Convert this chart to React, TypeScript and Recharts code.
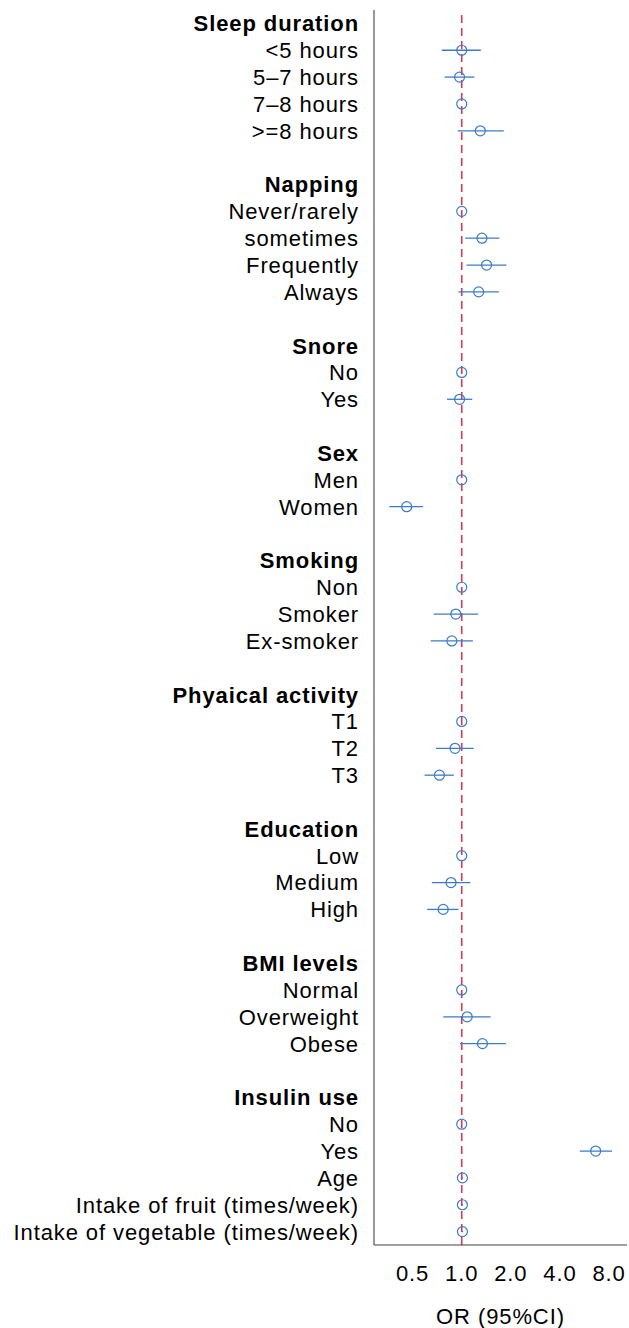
import { ComposedChart, Line, XAxis, YAxis, ErrorBar, ReferenceLine } from 'recharts';

const labels = [
  'Sleep duration', '<5 hours', '5–7 hours', '7–8 hours', '>=8 hours', '',
  'Napping', 'Never/rarely', 'sometimes', 'Frequently', 'Always', '',
  'Snore', 'No', 'Yes', '',
  'Sex', 'Men', 'Women', '',
  'Smoking', 'Non', 'Smoker', 'Ex-smoker', '',
  'Phyaical activity', 'T1', 'T2', 'T3', '',
  'Education', 'Low', 'Medium', 'High', '',
  'BMI levels', 'Normal', 'Overweight', 'Obese', '',
  'Insulin use', 'No', 'Yes', 'Age', 'Intake of fruit (times/week)', 'Intake of vegetable (times/week)',
];

const headers = ['Sleep duration', 'Napping', 'Snore', 'Sex', 'Smoking', 'Phyaical activity', 'Education', 'BMI levels', 'Insulin use'];

const oddsRatio = [
  null, 1.0, 0.97, 1.0, 1.3, null,
  null, 1.0, 1.33, 1.42, 1.27, null,
  null, 1.0, 0.97, null,
  null, 1.0, 0.46, null,
  null, 1.0, 0.92, 0.87, null,
  null, 1.0, 0.91, 0.73, null,
  null, 1.0, 0.86, 0.77, null,
  null, 1.0, 1.08, 1.34, null,
  null, 1.0, 6.62, 1.01, 1.01, 1.01,
];

const ciLower = [
  null, 0.755, 0.785, 1.0, 0.945, null,
  null, 1.0, 1.05, 1.07, 0.955, null,
  null, 1.0, 0.813, null,
  null, 1.0, 0.36, null,
  null, 1.0, 0.674, 0.646, null,
  null, 1.0, 0.696, 0.592, null,
  null, 1.0, 0.656, 0.614, null,
  null, 1.0, 0.77, 0.976, null,
  null, 1.0, 5.29, 1.0, 1.0, 1.0,
];

const ciUpper = [
  null, 1.31, 1.196, 1.0, 1.81, null,
  null, 1.0, 1.7, 1.88, 1.69, null,
  null, 1.0, 1.16, null,
  null, 1.0, 0.58, null,
  null, 1.0, 1.258, 1.17, null,
  null, 1.0, 1.184, 0.894, null,
  null, 1.0, 1.13, 0.955, null,
  null, 1.0, 1.504, 1.865, null,
  null, 1.0, 8.34, 1.02, 1.02, 1.02,
];

const xTicks = [0.5, 1, 2, 4, 8];

const blue = '#3b7bc8';
const font = '"Liberation Sans", Arial, sans-serif';

const data = labels.map((label, i) => {
  const or = oddsRatio[i];
  return {
    id: i,
    label,
    or,
    err: or == null ? undefined : [or - (ciLower[i] as number), (ciUpper[i] as number) - or],
  };
});

function LabelTick(props: any) {
  const { x, y, payload } = props;
  const label = labels[payload.value];
  const bold = headers.includes(label);
  return (
    <text
      x={x}
      y={y}
      dy='0.36em'
      textAnchor='end'
      fill='#000'
      fontSize={22}
      fontWeight={bold ? 'bold' : 'normal'}
      letterSpacing={0.9}
      fontFamily={font}
    >
      {label}
    </text>
  );
}

function OrDot(props: any) {
  const { cx, cy, payload, index } = props;
  if (payload.or == null || cx == null || cy == null) return <g key={index} />;
  return <circle key={index} cx={cx} cy={cy} r={5} fill='none' stroke={blue} strokeWidth={1.2} />;
}

export default function App() {
  return (
    <div style={{ fontFamily: font }}>
      <style>{'body{margin:0}'}</style>
      <ComposedChart
        width={629}
        height={1328}
        data={data}
        layout='vertical'
        margin={{ top: 10, right: 2, bottom: 0, left: 0 }}
      >
        <XAxis
          type='number'
          scale='log'
          domain={[0.29, 10.3]}
          allowDataOverflow
          ticks={xTicks}
          tickFormatter={(v: number) => v.toFixed(1)}
          tickLine={false}
          tickSize={0}
          tickMargin={20}
          height={83}
          stroke='#404040'
          tick={{ fill: '#000', fontSize: 22, letterSpacing: 0.9, fontFamily: font }}
          label={{ value: 'OR (95%CI)', position: 'insideBottom', offset: 4, fill: '#000', fontSize: 22, letterSpacing: 0.9, fontFamily: font }}
        />
        <YAxis
          type='category'
          dataKey='id'
          width={374}
          interval={0}
          padding={{ top: 13.4, bottom: 13.4 }}
          tickLine={false}
          tickSize={0}
          tickMargin={15}
          stroke='#333'
          tick={<LabelTick />}
        />
        <ReferenceLine x={1} stroke='#d23c55' strokeWidth={1.6} strokeDasharray='8 5' />
        <Line
          dataKey='or'
          stroke='none'
          isAnimationActive={false}
          dot={OrDot}
          activeDot={false}
          connectNulls={false}
        >
          <ErrorBar dataKey='err' direction='x' width={0} stroke={blue} strokeWidth={1.3} />
        </Line>
      </ComposedChart>
    </div>
  );
}
